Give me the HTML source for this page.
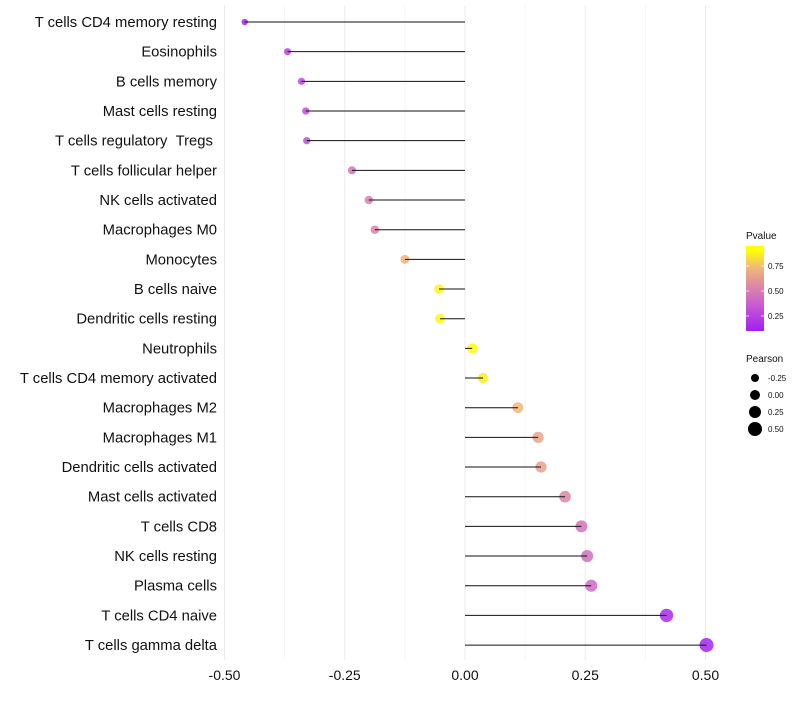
<!DOCTYPE html>
<html><head><meta charset="utf-8"><style>
body{margin:0;background:#fff;font-family:"Liberation Sans",sans-serif}
text{white-space:pre}
</style></head><body>
<svg id="chart" width="800" height="700" xmlns="http://www.w3.org/2000/svg" font-family="Liberation Sans, sans-serif"></svg>
<script>
const categories=["T cells CD4 memory resting","Eosinophils","B cells memory","Mast cells resting","T cells regulatory\u00a0\u00a0Tregs\u00a0","T cells follicular helper","NK cells activated","Macrophages M0","Monocytes","B cells naive","Dendritic cells resting","Neutrophils","T cells CD4 memory activated","Macrophages M2","Macrophages M1","Dendritic cells activated","Mast cells activated","T cells CD8","NK cells resting","Plasma cells","T cells CD4 naive","T cells gamma delta"];
const pearson=[-0.458,-0.369,-0.340,-0.331,-0.329,-0.235,-0.200,-0.1875,-0.125,-0.054,-0.052,0.015,0.0375,0.110,0.152,0.158,0.208,0.242,0.254,0.2625,0.419,0.502];
const pvalue=[0.03,0.18,0.22,0.24,0.24,0.42,0.48,0.50,0.72,0.93,0.93,0.97,0.90,0.74,0.66,0.64,0.52,0.42,0.40,0.38,0.06,0.02];
const xTicks=[-0.5,-0.25,0,0.25,0.5];
const xTickLabels=["-0.50","-0.25","0.00","0.25","0.50"];
const pTicks=[0.25,0.5,0.75];
const sizeTicks=[-0.25,0,0.25,0.5];
const sizeTickLabels=["-0.25","0.00","0.25","0.50"];

const svg=document.getElementById('chart');
const NS="http://www.w3.org/2000/svg";
function mk(t,a,p){const e=document.createElementNS(NS,t);for(const k in a)e.setAttribute(k,a[k]);(p||svg).appendChild(e);return e;}
const x=v=>465+v*481;
const y=i=>22+i*29.67;
const rSize=v=>Math.max(1.6,5+4*v);
const stops=[[0,[160,32,240]],[0.3,[200,90,210]],[0.5,[218,130,170]],[0.75,[240,185,120]],[0.95,[255,255,0]],[1,[255,255,0]]];
function col(p){for(let i=1;i<stops.length;i++){if(p<=stops[i][0]){const a=stops[i-1],b=stops[i],t=(p-a[0])/(b[0]-a[0]);const c=a[1].map((v,k)=>Math.round(v+(b[1][k]-v)*t));return `rgb(${c})`;}}return 'rgb(255,255,0)';}

for(let g=-0.5;g<=0.5001;g+=0.125){
const major=Math.abs(g*4-Math.round(g*4))<1e-6;
const l=mk('line',{x1:x(g),x2:x(g),y1:5,y2:660,stroke:major?'#ebebeb':'#f3f3f3','stroke-width':major?1:0.7});


}
xTicks.forEach((t,i)=>{
const tx=mk('text',{x:x(t),y:680,'text-anchor':'middle','font-size':14,fill:'#111'});
tx.textContent=xTickLabels[i];


});
categories.forEach((c,i)=>{
const lb=mk('text',{x:217,y:y(i)+5,'text-anchor':'end','font-size':14.8,fill:'#111'});
lb.textContent=c;


const pt=mk('circle',{cx:x(pearson[i]),cy:y(i),r:rSize(pearson[i]),fill:col(pvalue[i]),'fill-opacity':0.85});


const sg=mk('line',{x1:x(0),x2:x(pearson[i]),y1:y(i),y2:y(i),stroke:'#111','stroke-width':1});


});

const lt=mk('text',{x:746,y:239,'font-size':10,fill:'#111'});lt.textContent='Pvalue';


const defs=mk('defs',{});
const gr=mk('linearGradient',{id:'pg',x1:0,y1:1,x2:0,y2:0},defs);
stops.forEach(s=>mk('stop',{offset:s[0],'stop-color':`rgb(${s[1]})`},gr));
const bar=mk('rect',{x:746,y:246,width:18,height:85,fill:'url(#pg)'});


const py=p=>341-p*100;
pTicks.forEach(p=>{
mk('line',{x1:746,x2:749,y1:py(p),y2:py(p),stroke:'#fff','stroke-width':0.7});
mk('line',{x1:761,x2:764,y1:py(p),y2:py(p),stroke:'#fff','stroke-width':0.7});
const t=mk('text',{x:768,y:py(p)+3,'font-size':8,fill:'#111'});t.textContent=p.toFixed(2);


});
const st=mk('text',{x:746,y:362,'font-size':10,fill:'#111'});st.textContent='Pearson';


sizeTicks.forEach((s,i)=>{
const cy=378+i*17;
const c=mk('circle',{cx:755,cy:cy,r:rSize(s),fill:'#000'});


const t=mk('text',{x:768,y:cy+3,'font-size':8,fill:'#111'});t.textContent=sizeTickLabels[i];


});
</script>
</body></html>
